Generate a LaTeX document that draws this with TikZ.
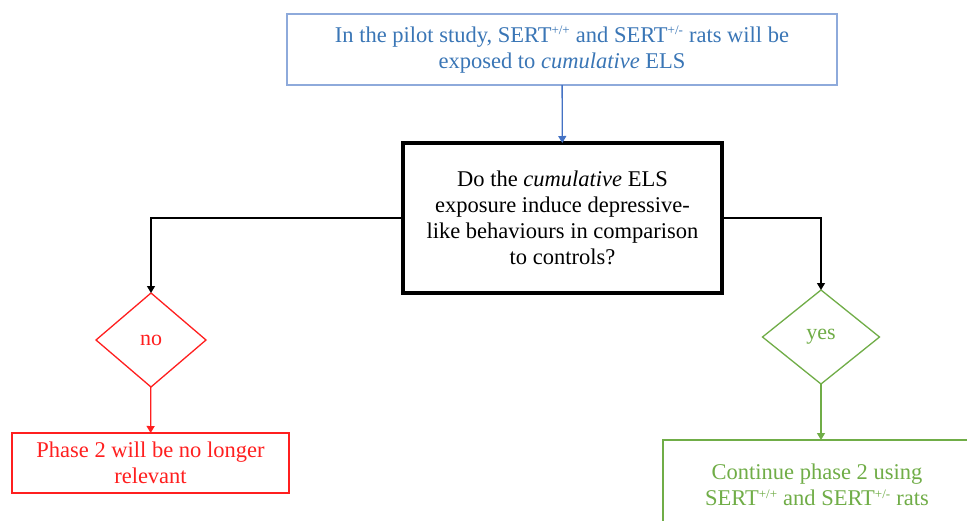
\documentclass[tikz,border=0pt]{standalone}
\usepackage{fontspec}
\setmainfont{Liberation Serif}
\usetikzlibrary{shapes.geometric,arrows.meta}
\definecolor{Ink}{HTML}{3A76B6}
\definecolor{Frame}{HTML}{8EAADB}
\definecolor{Wire}{HTML}{4472C4}
\definecolor{NoRed}{HTML}{FF1F1F}
\definecolor{YesGreen}{HTML}{70AD47}
\newcommand{\sert}[1]{SERT\textsuperscript{\fontsize{13}{13}\selectfont#1}}
\tikzset{
  flowbox/.style={draw,rectangle,align=center,inner sep=0pt,outer sep=0pt,
    font=\fontsize{22.5}{26}\selectfont},
  choice/.style={draw,diamond,inner sep=0pt,outer sep=0pt,line width=1.3pt,
    font=\fontsize{22}{24}\selectfont},
  link/.style={-{Triangle[width=8pt,length=7pt]},line width=1.3pt}
}

\begin{document}
\begin{tikzpicture}[x=1pt,y=-1pt]
\clip (0,0) rectangle (967,520);
\fill[white] (0,0) rectangle (967,520);
\node[flowbox,Frame,line width=1.3pt,text=Ink,minimum width=550pt,minimum height=71pt] (pilot) at (562,49.5)
  {In the pilot study, \sert{+/+} and \sert{+/-} rats will be\\exposed to \textit{cumulative} ELS};
\node[flowbox,line width=3.5pt,minimum width=319pt,minimum height=150pt] (query) at (562.5,218)
  {Do the \textit{cumulative} ELS\\exposure induce depressive-\\like behaviours in comparison\\to controls?};
\node[choice,NoRed,minimum width=110pt,minimum height=94pt] (no) at (151,340) {no};
\node[choice,YesGreen,minimum width=117pt,minimum height=94pt] (yes) at (821,337) {yes};
\node[flowbox,NoRed,line width=1.3pt,minimum width=277pt,minimum height=60pt] (stop) at (150.5,463)
  {Phase 2 will be no longer\\relevant};
\node[flowbox,YesGreen,line width=1.3pt,minimum width=308pt,minimum height=90pt] (go) at (817,485)
  {Continue phase 2 using\\\sert{+/+} and \sert{+/-} rats};
% connectors
\draw[link,Wire] (pilot) -- (query);
\draw[link] (query.west) -| (no.north);
\draw[link] (query.east) -| (yes.north);
\draw[link,NoRed] (no) -- (stop);
\draw[link,YesGreen] (yes.south) -- (yes.south |- go.north);
\end{tikzpicture}
\end{document}
